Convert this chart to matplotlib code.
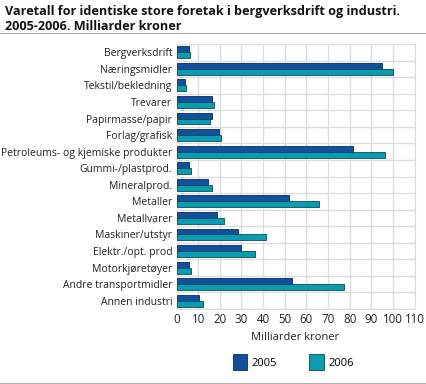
"""
Varetall for identiske store foretak, 2005-2006.
"""

import numpy as np
import matplotlib.pyplot as plt
from matplotlib.lines import Line2D

categories = ["Bergverksdrift", "Næringsmidler", "Tekstil/bekledning", "Trevarer",
              "Papirmasse/papir", "Forlag/grafisk",
              "Petroleums- og kjemiske produkter", "Gummi-/plastprod.",
              "Mineralprod.", "Metaller", "Metallvarer", "Maskiner/utstyr",
              "Elektr./opt. prod", "Motorkjøretøyer", "Andre transportmidler",
              "Annen industri"]
v2005 = [5.8, 95.0, 3.7, 16.5, 16.6, 19.8, 81.8, 5.8, 14.5, 51.8, 18.6, 28.2,
         29.8, 6.0, 53.5, 10.6]
v2006 = [6.3, 100.0, 4.5, 17.4, 15.7, 20.6, 96.5, 6.6, 16.5, 66.0, 22.0, 41.4,
         36.3, 6.8, 77.4, 12.3]
xticks = list(range(0, 111, 10))

plt.rcParams['font.family'] = ['Open Sans', 'DejaVu Sans']

fig = plt.figure(figsize=(4.26, 3.84), dpi=100)
ax = fig.add_axes([176.5 / 426, 1 - 309 / 384, (414.5 - 176.5) / 426, (309 - 44) / 384])

y = np.arange(len(categories))
h = 0.36
ax.barh(y - h / 2, v2005, height=h, color="#11509e", edgecolor="#0b2a55",
        linewidth=0.6, label="2005", zorder=3)
ax.barh(y + h / 2, v2006, height=h, color="#0a9cb0", edgecolor="#0b4a55",
        linewidth=0.6, label="2006", zorder=3)

ax.set_ylim(len(categories) - 0.5, -0.5)
ax.set_xlim(0, 110)
ax.set_yticks(y)
ax.set_yticklabels(categories, fontsize=7.45, color="#222222")
ax.set_xticks(xticks)
ax.set_xticklabels([str(t) for t in xticks], fontsize=8.3, color="#222222")
ax.tick_params(length=0, pad=3)
ax.set_yticks(np.arange(len(categories) + 1) - 0.5, minor=True)
ax.tick_params(which="minor", length=0)
ax.grid(axis="x", color="#dcdcdc", linewidth=1, zorder=0)
ax.grid(axis="y", which="minor", color="#dcdcdc", linewidth=1, zorder=0)
for s in ["top", "right", "left", "bottom"]:
    ax.spines[s].set_color("#dcdcdc")
ax.set_xlabel("Milliarder kroner", fontsize=8, color="#222222", labelpad=4)

ax.legend(loc="center", bbox_to_anchor=(0.49, -0.2), ncol=2, frameon=False,
          fontsize=8, handlelength=1.3, handleheight=1.9, columnspacing=2.9,
          handletextpad=0.4)

fig.text(0.012, 0.988, "Varetall for identiske store foretak i bergverksdrift og industri.\n"
         "2005-2006. Milliarder kroner", fontsize=9.1, fontweight="bold",
         va="top", ha="left", linespacing=1.2, color="#111111")
fig.add_artist(Line2D([0, 1], [1 - 33 / 384] * 2, color="#b0b0b0", linewidth=0.8))
fig.add_artist(Line2D([0, 1], [1 - 382.5 / 384] * 2, color="#b0b0b0", linewidth=0.8))

fig.savefig("out.png", dpi=100)
